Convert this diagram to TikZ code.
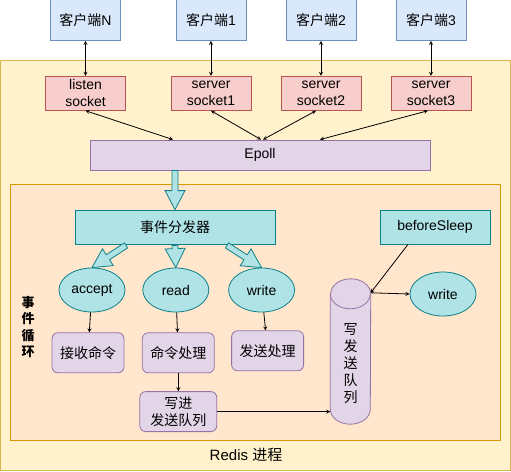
\documentclass[tikz,border=0pt]{standalone}
\usepackage{fontspec}
\setmainfont{Liberation Sans}
\newfontfamily\cjk{Noto Sans CJK SC}
\usetikzlibrary{shapes.geometric, arrows, positioning, calc}

\definecolor{clientfill}{HTML}{DAE8FC}
\definecolor{clientline}{HTML}{6C8EBF}
\definecolor{sockfill}{HTML}{F8CECC}
\definecolor{sockline}{HTML}{B85450}
\definecolor{purplefill}{HTML}{E1D5E7}
\definecolor{purpleline}{HTML}{9673A6}
\definecolor{cyanfill}{HTML}{B0E3E6}
\definecolor{cyanline}{HTML}{0E8088}
\definecolor{redisfill}{HTML}{FFF2CC}
\definecolor{redisline}{HTML}{D6B656}
\definecolor{loopfill}{HTML}{FFE6CC}
\definecolor{loopline}{HTML}{D79B00}

\tikzstyle{zh} = [font=\cjk\fontsize{14}{17}\selectfont]
\tikzstyle{client} = [rectangle, minimum width=70pt, minimum height=41pt, text centered, draw=clientline, fill=clientfill, line width=0.8pt]
\tikzstyle{sock} = [rectangle, minimum width=80pt, minimum height=34pt, inner sep=0pt, align=center, draw=sockline, fill=sockfill, line width=0.8pt]
\tikzstyle{epollbox} = [rectangle, minimum width=340pt, minimum height=30pt, draw=purpleline, fill=purplefill, line width=0.8pt]
\tikzstyle{dispatch} = [rectangle, minimum height=34pt, draw=cyanline, fill=cyanfill, line width=0.8pt]
\tikzstyle{event} = [ellipse, minimum width=66pt, minimum height=44pt, inner sep=0pt, draw=cyanline, fill=cyanfill, line width=0.8pt]
\tikzstyle{handler} = [rectangle, rounded corners=6pt, minimum width=72pt, minimum height=40pt, inner sep=0pt, align=center, draw=purpleline, fill=purplefill, line width=0.8pt, zh]
\tikzstyle{queuebody} = [draw=purpleline, fill=purplefill, line width=0.8pt]
\tikzstyle{fatarrow} = [draw=cyanline, fill=cyanfill, line width=0.8pt, line join=miter]
\tikzstyle{arrow} = [thick,->,>=stealth, line width=0.8pt]
\tikzstyle{dblarrow} = [thick,<->,>=stealth, line width=0.8pt]

% hollow block arrow between two named points
\newcommand{\fatarrow}[2]{%
  \coordinate (fb) at ($(#2)!19pt!(#1)$);
  \draw[fatarrow] ($(#1)!3pt!90:(#2)$) -- ($(fb)!3pt!-90:(#1)$) -- ($(fb)!10pt!-90:(#1)$) -- (#2)
    -- ($(fb)!10pt!90:(#1)$) -- ($(fb)!3pt!90:(#1)$) -- ($(#1)!3pt!-90:(#2)$) -- cycle;}

\begin{document}
\begin{tikzpicture}[x=1pt, y=-1pt, font=\fontsize{14}{17}\selectfont]
\useasboundingbox (0,0) rectangle (511,471);

% containers
\draw[draw=redisline, fill=redisfill, line width=0.8pt] (0.5,60.5) rectangle (510.5,470.5);
\draw[draw=loopline, fill=loopfill, line width=0.8pt] (10.5,184) rectangle (500.5,440);
\node (redis) at (246,455) [font=\fontsize{15}{18}\selectfont] {Redis {\cjk 进程}};
\node (loop) at (28,327) [font=\cjk\bfseries\fontsize{13}{16.5}\selectfont, align=center] {事\\件\\循\\环};

% clients and sockets
\node (cN) [client] at (85.5,20) {{\cjk 客户端}N};
\node (c1) [client] at (211,20) {{\cjk 客户端}1};
\node (c2) [client] at (321,20) {{\cjk 客户端}2};
\node (c3) [client] at (431,20) {{\cjk 客户端}3};
\node (listen) [sock, below=35pt of cN] {listen\\socket};
\node (s1) [sock, below=35pt of c1] {server\\socket1};
\node (s2) [sock, below=35pt of c2] {server\\socket2};
\node (s3) [sock, below=35pt of c3] {server\\socket3};
\node (epoll) [epollbox] at (260,155) {Epoll};

% event loop
\node (dispatcher) [dispatch, minimum width=200pt, zh] at (175,227) {事件分发器};
\node (sleep) [dispatch, minimum width=110pt] at (435,227) {beforeSleep};
\node (accept) [event] at (92,290) {accept};
\node (read) [event, right=17pt of accept] {read};
\node (write) [event, right=19pt of read] {write};
\node (write2) [event] at (443,294) {write};
\node (recv) [handler, below=20pt of accept, xshift=-4pt] {接收命令};
\node (cmd) [handler, below=20pt of read, xshift=2.5pt] {命令处理};
\node (sendproc) [handler, below=18pt of write, xshift=6pt] {发送处理};
\node (wq) [handler, minimum width=77pt, below=18pt of cmd] {写进\\发送队列};

% send queue cylinder
\node (queue) [minimum width=40pt, minimum height=145pt, inner sep=0pt] at (350.5,351.5) {};
\draw[queuebody] ($(queue.north west)+(0,15)$) -- ($(queue.south west)+(0,-15)$)
  arc[start angle=180, end angle=360, x radius=20pt, y radius=15pt]
  -- ($(queue.north east)+(0,15)$)
  arc[start angle=0, end angle=180, x radius=20pt, y radius=15pt];
\draw[queuebody, fill=none] ($(queue.north west)+(0,15)$)
  arc[start angle=180, end angle=360, x radius=20pt, y radius=15pt];
\node (queuetext) [zh, align=center] at (350.5,364) {写\\发\\送\\队\\列};
\coordinate (qtop) at ([yshift=-14pt]queue.north east);

% connectors
\draw [dblarrow] (cN) -- (listen);
\draw [dblarrow] (c1) -- (s1);
\draw [dblarrow] (c2) -- (s2);
\draw [dblarrow] (c3) -- (s3);
\draw [dblarrow] (listen.south) -- ([xshift=-87pt]epoll.north);
\draw [dblarrow] (s1.south) -- ([xshift=1pt]epoll.north);
\draw [dblarrow] ([xshift=-5pt]s2.south) -- ([xshift=3pt]epoll.north);
\draw [dblarrow] ([xshift=-3pt]s3.south) -- ([xshift=60pt]epoll.north);

\coordinate (fa0) at ([xshift=-85pt]epoll.south);
\coordinate (fa1) at ([xshift=-49pt, yshift=-1pt]dispatcher.south);
\coordinate (fa2) at ([yshift=-1pt]dispatcher.south);
\coordinate (fa3) at ([xshift=52pt, yshift=-1pt]dispatcher.south);
\fatarrow{fa0}{dispatcher.north}
\fatarrow{fa1}{accept.north}
\fatarrow{fa2}{read.north}
\fatarrow{fa3}{write.north}

\draw [arrow] (accept) -- (recv);
\draw [arrow] (read) -- (cmd);
\draw [arrow] (write) -- (sendproc);
\draw [arrow] (cmd) -- (wq);
\draw [arrow] (wq.east) -- (wq.east -| queue.west);
\draw [arrow] ([xshift=-27pt]sleep.south) -- (qtop);
\draw [arrow] (qtop) -- (write2.west);

\end{tikzpicture}
\end{document}
